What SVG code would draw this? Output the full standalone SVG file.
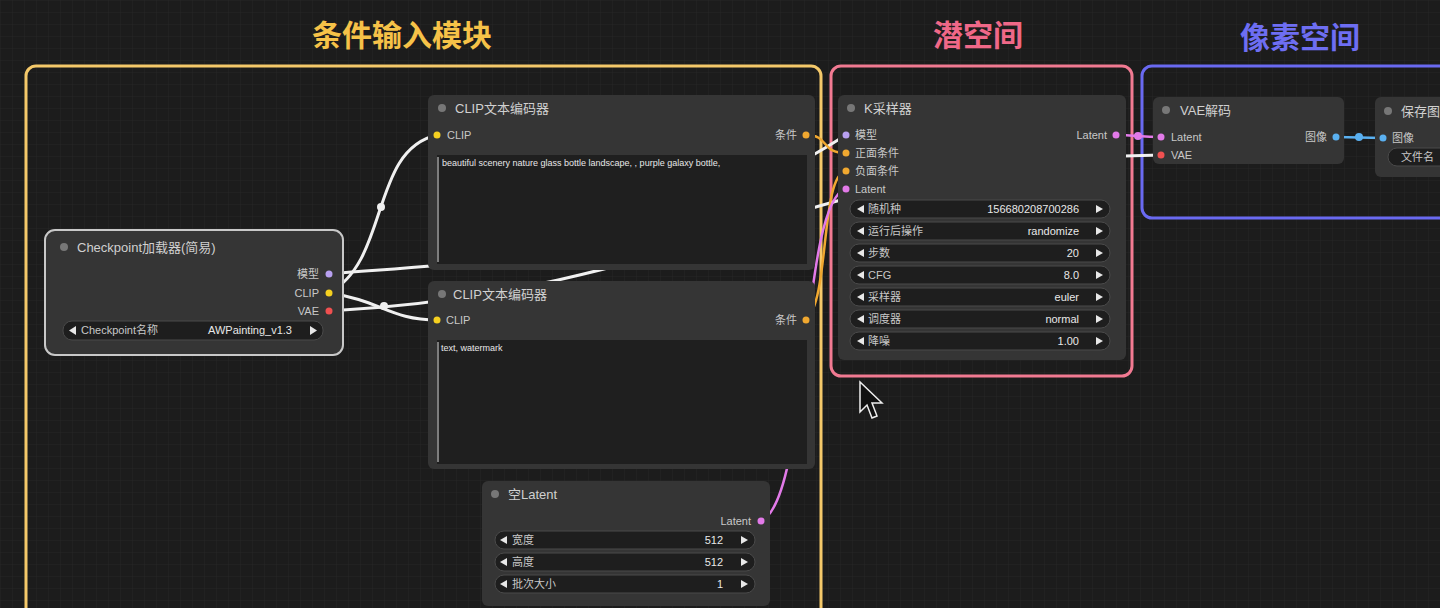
<svg xmlns="http://www.w3.org/2000/svg" width="1440" height="608" viewBox="0 0 1440 608">
<defs>
<pattern id="grid" width="12" height="12" patternUnits="userSpaceOnUse"><path d="M12 0H0V12" fill="none" stroke="#262626" stroke-width="1"/></pattern>
<style>
text{font-family:"Liberation Sans","Noto Sans CJK SC",sans-serif;fill:#c8c8c8;font-size:11px}
.title{font-size:13px;fill:#d0d0d0}
.gt{font-size:30px;font-weight:bold;font-family:"Noto Sans CJK SC",sans-serif}
.node{fill:#353535}
.wg{fill:#1e1e1e;stroke:#4a4a4a;stroke-width:1}
.ta{fill:#1f1f1f}
.r{text-anchor:end}
.w{fill:none;stroke:#f0f0f0;stroke-width:3}
.o{fill:none;stroke:#f0a830;stroke-width:2.5}
.p{fill:none;stroke:#e27ae8;stroke-width:2.5}
.tri{fill:#e8e8e8}
</style>
</defs>
<rect width="1440" height="608" fill="#1c1c1c"/>
<rect width="1440" height="608" fill="url(#grid)"/>
<text class="gt" x="402" y="46" text-anchor="middle" style="fill:#f6c248">条件输入模块</text>
<text class="gt" x="978" y="46" text-anchor="middle" style="fill:#f06888">潜空间</text>
<text class="gt" x="1300" y="48" text-anchor="middle" style="fill:#6e6ef2">像素空间</text>
<g id="groups" fill="none" stroke-width="3">
<rect x="26" y="66" width="795" height="570" rx="10" stroke="#f5c96a"/>
<rect x="831" y="66" width="301" height="310" rx="10" stroke="#f27a92"/>
<rect x="1142" y="66" width="320" height="152" rx="10" stroke="#6a6af2"/>
</g>
<g id="connectors">
<path class="w" d="M329 274 C 500 260, 650 260, 846 135"/>
<path class="w" d="M329 293 C 390 260, 370 150, 437 135"/>
<path class="w" d="M329 293 C 380 300, 390 320, 437 320"/>
<path class="w" d="M329 311 C 700 290, 800 160, 1161 155"/>
<path class="o" d="M806 135 C 830 135, 820 153, 846 153"/>
<path class="o" d="M806 320 C 830 300, 820 175, 846 171"/>
<path class="p" d="M761 521 C 810 500, 800 200, 846 189"/>
<path class="p" d="M1116 135 C 1135 135, 1140 137, 1161 137"/>
<path fill="none" stroke="#5ab0f0" stroke-width="2.5" d="M1336 137 L1383 138"/>
<circle cx="381" cy="207" r="4" fill="#f0f0f0"/>
<circle cx="384" cy="306" r="4" fill="#f0f0f0"/>
<circle cx="1359" cy="137" r="4" fill="#5ab0f0"/>
<circle cx="1138" cy="136" r="4" fill="#e27ae8"/>
</g>
<g id="checkpoint">
<rect x="45" y="230" width="298" height="125" rx="10" class="node" stroke="#c8c8c8" stroke-width="2"/>
<circle cx="64" cy="247" r="4" fill="#777"/>
<text class="title" x="77" y="252">Checkpoint加载器(简易)</text>
<text class="r" x="319" y="278">模型</text><circle cx="329" cy="274" r="3.5" fill="#b8a0f0"/>
<text class="r" x="319" y="297">CLIP</text><circle cx="329" cy="293" r="3.5" fill="#f5d020"/>
<text class="r" x="319" y="315">VAE</text><circle cx="329" cy="311" r="3.5" fill="#f05050"/>
<rect class="wg" x="63" y="321" width="260" height="19" rx="9"/>
<path class="tri" d="M76 326 L69 330.5 L76 335Z"/><path class="tri" d="M310 326 L317 330.5 L310 335Z"/>
<text x="81" y="334">Checkpoint名称</text><text class="r" x="292" y="334" style="fill:#e8e8e8">AWPainting_v1.3</text>
</g>
<g id="clip1">
<rect x="428" y="95" width="387" height="175" rx="6" class="node"/>
<circle cx="442" cy="108" r="4" fill="#777"/>
<text class="title" x="455" y="113">CLIP文本编码器</text>
<circle cx="437" cy="135" r="3.5" fill="#f5d020"/><text x="447" y="139">CLIP</text>
<text class="r" x="797" y="139">条件</text><circle cx="806" cy="135" r="3.5" fill="#f0a830"/>
<rect class="ta" x="437" y="155" width="370" height="109"/>
<line x1="438" y1="157" x2="438" y2="262" stroke="#ddd"/>
<text x="442" y="166" style="font-size:9px;fill:#e8e8e8">beautiful scenery nature glass bottle landscape, , purple galaxy bottle,</text>
</g>
<g id="clip2">
<rect x="428" y="281" width="387" height="188" rx="6" class="node"/>
<circle cx="442" cy="294" r="4" fill="#777"/>
<text class="title" x="453" y="299">CLIP文本编码器</text>
<circle cx="437" cy="320" r="3.5" fill="#f5d020"/><text x="446" y="324">CLIP</text>
<text class="r" x="797" y="324">条件</text><circle cx="806" cy="320" r="3.5" fill="#f0a830"/>
<rect class="ta" x="437" y="340" width="370" height="124"/>
<line x1="438" y1="342" x2="438" y2="462" stroke="#ddd"/>
<text x="441" y="351" style="font-size:9px;fill:#e8e8e8">text, watermark</text>
</g>
<g id="emptylatent">
<rect x="482" y="481" width="288" height="125" rx="6" class="node"/>
<circle cx="495" cy="494" r="4" fill="#777"/>
<text class="title" x="508" y="499">空Latent</text>
<text class="r" x="751" y="525">Latent</text><circle cx="761" cy="521" r="3.5" fill="#e27ae8"/>
<rect class="wg" x="495" y="531" width="260" height="18" rx="9"/><path class="tri" d="M507 536 L500 540 L507 544Z"/><path class="tri" d="M741 536 L748 540 L741 544Z"/><text x="512" y="544">宽度</text><text class="r" x="723" y="544" style="fill:#e8e8e8">512</text>
<rect class="wg" x="495" y="553" width="260" height="18" rx="9"/><path class="tri" d="M507 558 L500 562 L507 566Z"/><path class="tri" d="M741 558 L748 562 L741 566Z"/><text x="512" y="566">高度</text><text class="r" x="723" y="566" style="fill:#e8e8e8">512</text>
<rect class="wg" x="495" y="575" width="260" height="18" rx="9"/><path class="tri" d="M507 580 L500 584 L507 588Z"/><path class="tri" d="M741 580 L748 584 L741 588Z"/><text x="512" y="588">批次大小</text><text class="r" x="723" y="588" style="fill:#e8e8e8">1</text>
</g>
<g id="ksampler">
<rect x="838" y="95" width="288" height="265" rx="6" class="node"/>
<circle cx="851" cy="108" r="4" fill="#777"/>
<text class="title" x="864" y="113">K采样器</text>
<circle cx="846" cy="135" r="3.5" fill="#b8a0f0"/><text x="855" y="139">模型</text>
<circle cx="846" cy="153" r="3.5" fill="#f0a830"/><text x="855" y="157">正面条件</text>
<circle cx="846" cy="171" r="3.5" fill="#f0a830"/><text x="855" y="175">负面条件</text>
<circle cx="846" cy="189" r="3.5" fill="#e27ae8"/><text x="855" y="193">Latent</text>
<text class="r" x="1107" y="139">Latent</text><circle cx="1116" cy="135" r="3.5" fill="#e27ae8"/>
<g>
<rect class="wg" x="850" y="200" width="260" height="18" rx="9"/><text x="868" y="213">随机种</text><text class="r" x="1079" y="213" style="fill:#e8e8e8">156680208700286</text>
<rect class="wg" x="850" y="222" width="260" height="18" rx="9"/><text x="868" y="235">运行后操作</text><text class="r" x="1079" y="235" style="fill:#e8e8e8">randomize</text>
<rect class="wg" x="850" y="244" width="260" height="18" rx="9"/><text x="868" y="257">步数</text><text class="r" x="1079" y="257" style="fill:#e8e8e8">20</text>
<rect class="wg" x="850" y="266" width="260" height="18" rx="9"/><text x="868" y="279">CFG</text><text class="r" x="1079" y="279" style="fill:#e8e8e8">8.0</text>
<rect class="wg" x="850" y="288" width="260" height="18" rx="9"/><text x="868" y="301">采样器</text><text class="r" x="1079" y="301" style="fill:#e8e8e8">euler</text>
<rect class="wg" x="850" y="310" width="260" height="18" rx="9"/><text x="868" y="323">调度器</text><text class="r" x="1079" y="323" style="fill:#e8e8e8">normal</text>
<rect class="wg" x="850" y="332" width="260" height="18" rx="9"/><text x="868" y="345">降噪</text><text class="r" x="1079" y="345" style="fill:#e8e8e8">1.00</text>
<path class="tri" d="M864 205 L857 209 L864 213Z M864 227 L857 231 L864 235Z M864 249 L857 253 L864 257Z M864 271 L857 275 L864 279Z M864 293 L857 297 L864 301Z M864 315 L857 319 L864 323Z M864 337 L857 341 L864 345Z"/>
<path class="tri" d="M1096 205 L1103 209 L1096 213Z M1096 227 L1103 231 L1096 235Z M1096 249 L1103 253 L1096 257Z M1096 271 L1103 275 L1096 279Z M1096 293 L1103 297 L1096 301Z M1096 315 L1103 319 L1096 323Z M1096 337 L1103 341 L1096 345Z"/>
</g>
</g>
<g id="vaedecode">
<rect x="1153" y="97" width="191" height="67" rx="6" class="node"/>
<circle cx="1166" cy="110" r="4" fill="#777"/>
<text class="title" x="1180" y="115">VAE解码</text>
<circle cx="1161" cy="137" r="3.5" fill="#e27ae8"/><text x="1171" y="141">Latent</text>
<circle cx="1161" cy="155" r="3.5" fill="#f05050"/><text x="1171" y="159">VAE</text>
<text class="r" x="1327" y="141">图像</text><circle cx="1336" cy="137" r="3.5" fill="#5ab0f0"/>
</g>
<g id="saveimage">
<rect x="1375" y="97" width="80" height="80" rx="6" class="node"/>
<circle cx="1388" cy="111" r="4" fill="#777"/>
<text class="title" x="1401" y="116">保存图</text>
<circle cx="1383" cy="138" r="3.5" fill="#5ab0f0"/><text x="1392" y="142">图像</text>
<rect class="wg" x="1388" y="148" width="70" height="18" rx="9"/><text x="1401" y="161">文件名</text>
</g>
<path d="M860 382 L860 412 L867 405 L872 418 L877 416 L872 403 L882 403 Z" fill="#111" stroke="#eee" stroke-width="1.5"/>
</svg>
